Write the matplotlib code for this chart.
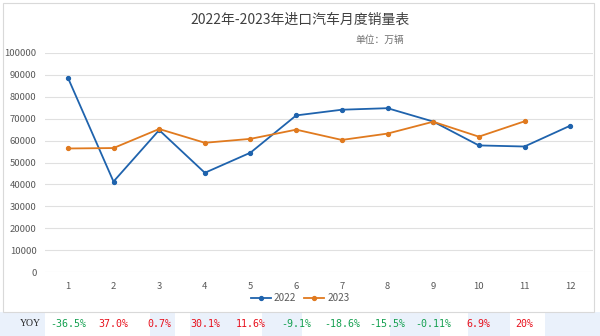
import matplotlib
matplotlib.use('Agg')
import matplotlib.pyplot as plt
from matplotlib.patches import Rectangle
from matplotlib.transforms import blended_transform_factory

plt.rcParams['font.family'] = ['Noto Sans CJK SC', 'DejaVu Sans']

# 月份与销量
months = list(range(1, 13))
sales_2022 = [88800, 41300, 64800, 45300, 54500, 71500, 74100, 74800, 68700, 57800, 57300, 66800]
sales_2023 = [56400, 56600, 65300, 59000, 60800, 65000, 60300, 63200, 68620, 61800, 68800]
yoy_labels = ['-36.5%', '37.0%', '0.7%', '30.1%', '11.6%', '-9.1%', '-18.6%', '-15.5%', '-0.11%', '6.9%', '20%']

W, H = 600, 336
fig = plt.figure(figsize=(W / 100, H / 100), dpi=100)
fig.patch.set_facecolor('white')

# 底部浅蓝色背景块
bg = [(0, 45), (150, 25), (190, 50), (262, 40), (390, 50), (468, 42), (545, 55)]
for x0, w in bg:
    fig.patches.append(Rectangle((x0 / W, 0), w / W, 24 / H, transform=fig.transFigure,
                                 facecolor='#eaf1fb', edgecolor='none', zorder=0))

# 图表外框
fig.patches.append(Rectangle((3 / W, 1 - 312 / H), 591 / W, 309 / H, transform=fig.transFigure,
                             facecolor='white', edgecolor='#d9d9d9', lw=0.8, zorder=1))

ax = fig.add_axes([45 / W, 1 - 272 / H, 548 / W, 219 / H])
ax.set_facecolor('none')
ax.set_zorder(2)

ax.plot(months, sales_2022, color='#1f63ad', lw=1.3, marker='o', markersize=2.8, label='2022')
ax.plot(months[:len(sales_2023)], sales_2023, color='#e07a1f', lw=1.3, marker='o', markersize=2.8,
        label='2023')

ax.set_xlim(0.5, 12.5)
ax.set_ylim(0, 100000)
ax.set_yticks(range(0, 100001, 10000))
ax.set_xticks(months)
ax.grid(axis='y', color='#e0e0e0', lw=0.8)
ax.set_axisbelow(True)
for s in ax.spines.values():
    s.set_visible(False)
ax.tick_params(length=0, colors='#595959', labelsize=6.8)
ax.tick_params(axis='y', pad=6)
ax.tick_params(axis='x', pad=7)

fig.text(0.5, 1 - 20 / H, '2022年-2023年进口汽车月度销量表', ha='center', va='center',
         fontsize=10, color='#404040')
fig.text(380 / W, 1 - 40 / H, '单位：万辆', ha='center', va='center', fontsize=7, color='#707070')

ax.legend(loc='center', bbox_to_anchor=(300 / W, 1 - 298 / H), bbox_transform=fig.transFigure,
          ncol=2, frameon=False, fontsize=7.2, labelcolor='#595959', handlelength=2,
          columnspacing=0.8, handletextpad=0.3)

# 同比增速
tr = blended_transform_factory(ax.transData, fig.transFigure)
fig.text(20 / W, 1 - 324 / H, 'YOY', ha='left', va='center', fontsize=7, color='#222222',
         family='Liberation Serif')
for m, lab in zip(months, yoy_labels):
    c = '#14a050' if lab.startswith('-') else '#e8101c'
    ax.text(m, 1 - 324 / H, lab, transform=tr, ha='center', va='center', fontsize=7.2,
            color=c, family='DejaVu Sans Mono', clip_on=False)

fig.savefig('out.png', dpi=100)
